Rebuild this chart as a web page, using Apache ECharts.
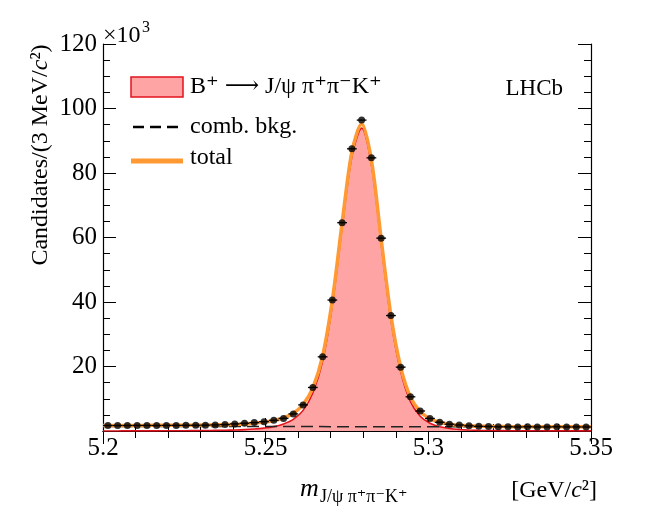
<!DOCTYPE html>
<html>
<head>
<meta charset="utf-8">
<script src="https://cdn.jsdelivr.net/npm/echarts@6/dist/echarts.min.js"></script>
<style>
html,body{margin:0;padding:0;background:#fff;}
#chart{width:654px;height:514px;}
</style>
</head>
<body>
<div id="chart"></div>
<script>
// ---- data (candidates in units of 10^3 per 3 MeV/c^2) ----
const massBins = [5.2015, 5.2045, 5.2075, 5.2105, 5.2135, 5.2165, 5.2195, 5.2225, 5.2255, 5.2285,
  5.2315, 5.2345, 5.2375, 5.2405, 5.2435, 5.2465, 5.2495, 5.2525, 5.2555, 5.2585,
  5.2615, 5.2645, 5.2675, 5.2705, 5.2735, 5.2765, 5.2795, 5.2825, 5.2855, 5.2885,
  5.2915, 5.2945, 5.2975, 5.3005, 5.3035, 5.3065, 5.3095, 5.3125, 5.3155, 5.3185,
  5.3215, 5.3245, 5.3275, 5.3305, 5.3335, 5.3365, 5.3395, 5.3425, 5.3455, 5.3485];
const candidates = [1.70, 1.70, 1.70, 1.72, 1.72, 1.70, 1.74, 1.74, 1.76, 1.78,
  1.82, 1.88, 1.98, 2.2, 2.4, 2.6, 2.9, 3.3, 3.9, 5.3,
  8.1, 13.5, 23.0, 40.6, 64.6, 87.5, 96.4, 84.7, 59.8, 35.8,
  19.8, 10.6, 6.2, 3.9, 2.7, 2.1, 1.85, 1.6, 1.45, 1.4,
  1.3, 1.3, 1.25, 1.3, 1.25, 1.25, 1.3, 1.25, 1.25, 1.25];
const fitMass = [5.2].concat(massBins, [5.35]);
const totalFit = [1.72,
  1.72, 1.72, 1.73, 1.73, 1.74, 1.75, 1.76, 1.78, 1.80, 1.82,
  1.85, 1.90, 1.96, 2.05, 2.18, 2.40, 2.75, 3.25, 4.10, 5.50,
  8.2, 13.4, 23.2, 40.6, 64.5, 86.6, 95.3, 84.0, 59.5, 35.8,
  19.8, 10.5, 6.0, 3.8, 2.7, 2.1, 1.8, 1.6, 1.48, 1.42,
  1.38, 1.36, 1.34, 1.33, 1.32, 1.31, 1.31, 1.30, 1.30, 1.30,
  1.30];
const signalFit = [0.02,
  0.02, 0.02, 0.03, 0.03, 0.04, 0.05, 0.06, 0.08, 0.10, 0.12,
  0.15, 0.20, 0.25, 0.32, 0.42, 0.60, 0.90, 1.35, 2.20, 3.60,
  6.4, 11.8, 21.6, 39.1, 63.1, 85.1, 93.9, 82.6, 58.1, 34.4,
  18.4, 9.1, 4.6, 2.4, 1.3, 0.75, 0.45, 0.30, 0.20, 0.15,
  0.12, 0.10, 0.08, 0.07, 0.06, 0.05, 0.04, 0.04, 0.03, 0.03,
  0.03];
const bkgMass = [5.2, 5.35];
const bkgFit = [1.42, 1.28];
const xTicks = [5.2, 5.25, 5.3, 5.35];
const yTicks = [20, 40, 60, 80, 100, 120];

// ---- styling ----
const SERIF = '"Liberation Serif", "Times New Roman", "DejaVu Serif", serif';
const ORANGE = '#ff9933';
const RED = '#e3121c';
const PINK = '#ffa4a4';
const HALF_BIN = 0.0015;

const zip = (a, b) => a.map((v, i) => [v, b[i]]);

const chart = echarts.init(document.getElementById('chart'), null, {renderer: 'canvas'});

function axisCommon(showLabels) {
  return {
    axisLine: {show: true, lineStyle: {color: '#000', width: 1.2}},
    axisTick: {show: true, inside: true, length: 13, lineStyle: {color: '#000', width: 1}},
    splitLine: {show: false},
    axisLabel: {show: showLabels}
  };
}

const xBase = {type: 'value', min: xTicks[0], max: xTicks[xTicks.length - 1], interval: 0.05};
const yBase = {type: 'value', min: 0, max: yTicks[yTicks.length - 1], interval: 20};

const option = {
  animation: false,
  backgroundColor: '#fff',
  grid: {left: 103, top: 44, width: 488, height: 387, containLabel: false},
  xAxis: [
    Object.assign({}, xBase, axisCommon(true), {
      position: 'bottom',
      minorTick: {show: true, splitNumber: 5, length: 7, lineStyle: {color: '#000', width: 1}},
      axisLabel: {show: true, margin: 5, color: '#000', fontFamily: SERIF, fontSize: 25,
        formatter: v => String(Math.round(v * 100) / 100)}
    }),
    Object.assign({}, xBase, axisCommon(false), {
      position: 'top',
      minorTick: {show: true, splitNumber: 5, length: 7, lineStyle: {color: '#000', width: 1}}
    })
  ],
  yAxis: [
    Object.assign({}, yBase, axisCommon(true), {
      position: 'left',
      minorTick: {show: true, splitNumber: 4, length: 7, lineStyle: {color: '#000', width: 1}},
      axisLabel: {show: true, margin: 6, color: '#000', fontFamily: SERIF, fontSize: 25,
        formatter: v => (yTicks.indexOf(v) >= 0 ? String(v) : '')}
    }),
    Object.assign({}, yBase, axisCommon(false), {
      position: 'right',
      minorTick: {show: true, splitNumber: 4, length: 7, lineStyle: {color: '#000', width: 1}}
    })
  ],
  series: [
    {
      name: 'signal', type: 'line', xAxisIndex: 0, yAxisIndex: 0,
      data: zip(fitMass, signalFit), smooth: 0.3, showSymbol: false, symbol: 'none',
      lineStyle: {color: RED, width: 1.6},
      areaStyle: {color: PINK, opacity: 1},
      z: 1
    },
    {
      name: 'bkg', type: 'line', xAxisIndex: 0, yAxisIndex: 0,
      data: zip(bkgMass, bkgFit), showSymbol: false, symbol: 'none',
      lineStyle: {color: '#222', width: 1.5, type: [12, 6]},
      z: 2
    },
    {
      name: 'total', type: 'line', xAxisIndex: 0, yAxisIndex: 0,
      data: zip(fitMass, totalFit), smooth: 0.3, showSymbol: false, symbol: 'none',
      lineStyle: {color: ORANGE, width: 3.5},
      z: 3
    },
    {
      name: 'xerr', type: 'custom', xAxisIndex: 0, yAxisIndex: 0,
      data: zip(massBins, candidates),
      renderItem: function (params, api) {
        const x = api.value(0), y = api.value(1);
        const p1 = api.coord([x - HALF_BIN, y]);
        const p2 = api.coord([x + HALF_BIN, y]);
        return {
          type: 'line',
          shape: {x1: p1[0], y1: p1[1], x2: p2[0], y2: p2[1]},
          style: {stroke: '#000', lineWidth: 1.3}
        };
      },
      z: 4
    },
    {
      name: 'data', type: 'scatter', xAxisIndex: 0, yAxisIndex: 0,
      data: zip(massBins, candidates),
      symbol: 'circle', symbolSize: 7,
      itemStyle: {color: '#000'},
      z: 5
    }
  ],
  graphic: [
    // x10^3
    {type: 'text', x: 103, y: 36, style: {text: '×10', fontFamily: SERIF, fontSize: 24, fill: '#000', align: 'left', verticalAlign: 'middle'}},
    {type: 'text', x: 142, y: 28, style: {text: '3', fontFamily: SERIF, fontSize: 16, fill: '#000', align: 'left', verticalAlign: 'middle'}},
    // y title
    {type: 'text', x: 41, y: 155, rotation: Math.PI / 2,
      style: {text: 'Candidates/(3 MeV/{i|c}²)', fontFamily: SERIF, fontSize: 24, fill: '#000',
        align: 'center', verticalAlign: 'middle',
        rich: {i: {fontFamily: SERIF, fontSize: 24, fontStyle: 'italic', fill: '#000'}}}},
    // x title
    {type: 'text', x: 300, y: 489, style: {text: 'm', fontFamily: SERIF, fontSize: 26, fontStyle: 'italic', fill: '#000', align: 'left', verticalAlign: 'middle'}},
    {type: 'text', x: 320, y: 497, style: {text: 'J/ψ π⁺π⁻K⁺', fontFamily: SERIF, fontSize: 18, fill: '#000', align: 'left', verticalAlign: 'middle'}},
    {type: 'text', x: 597, y: 491,
      style: {text: '[GeV/{i|c}²]', fontFamily: SERIF, fontSize: 24, fill: '#000', align: 'right', verticalAlign: 'middle',
        rich: {i: {fontFamily: SERIF, fontSize: 24, fontStyle: 'italic', fill: '#000'}}}},
    // legend
    {type: 'rect', shape: {x: 131, y: 77, width: 52, height: 20}, style: {fill: PINK, stroke: RED, lineWidth: 1.5}},
    {type: 'text', x: 190, y: 87, style: {text: 'B⁺ ⟶ J/ψ π⁺π⁻K⁺', fontFamily: SERIF, fontSize: 24, fill: '#000', align: 'left', verticalAlign: 'middle'}},
    {type: 'line', shape: {x1: 133, y1: 127, x2: 181, y2: 127}, style: {stroke: '#000', lineWidth: 2.5, lineDash: [11, 6]}},
    {type: 'text', x: 190, y: 127, style: {text: 'comb. bkg.', fontFamily: SERIF, fontSize: 24, fill: '#000', align: 'left', verticalAlign: 'middle'}},
    {type: 'line', shape: {x1: 131, y1: 161, x2: 183, y2: 161}, style: {stroke: ORANGE, lineWidth: 5}},
    {type: 'text', x: 190, y: 158, style: {text: 'total', fontFamily: SERIF, fontSize: 24, fill: '#000', align: 'left', verticalAlign: 'middle'}},
    // LHCb
    {type: 'text', x: 563, y: 89, style: {text: 'LHCb', fontFamily: SERIF, fontSize: 23, fill: '#000', align: 'right', verticalAlign: 'middle'}}
  ]
};

chart.setOption(option);
</script>
</body>
</html>
